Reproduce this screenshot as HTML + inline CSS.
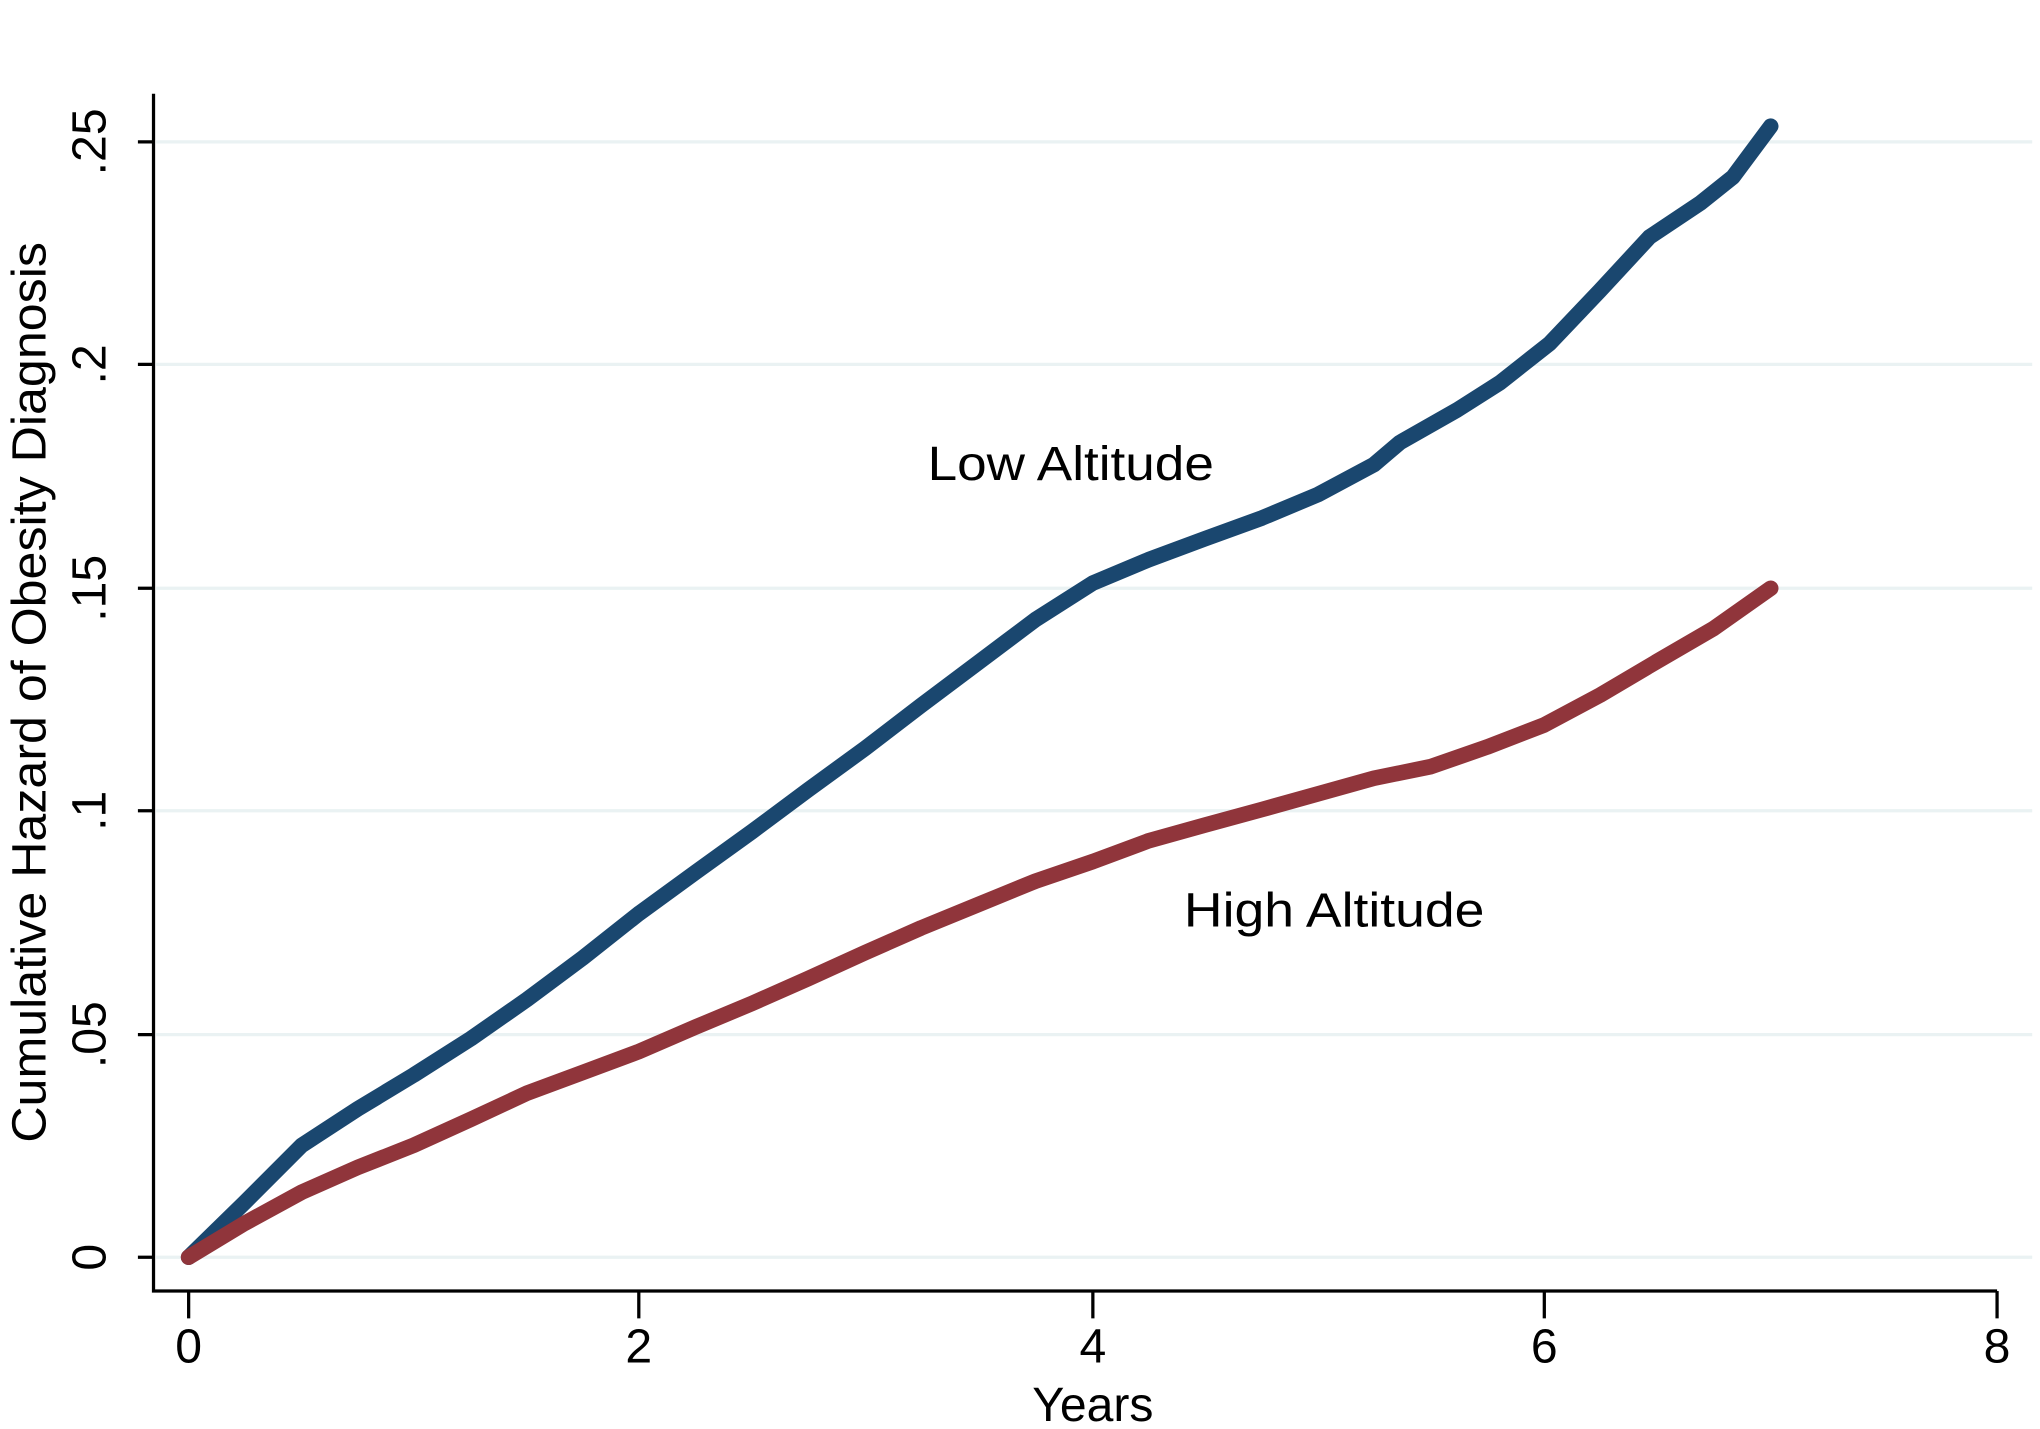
<!DOCTYPE html>
<html><head><meta charset="utf-8"><style>
html,body{margin:0;padding:0;background:#fff;}
svg{display:block;}
text{font-family:"Liberation Sans",sans-serif;fill:#000;}
</style></head><body>
<svg width="2040" height="1429" viewBox="0 0 1568 1098" preserveAspectRatio="none" xmlns="http://www.w3.org/2000/svg">
<rect width="1568" height="1098" fill="#fff"/>
<g stroke="#eaf2f3" stroke-width="2.5">
<line x1="120" y1="966" x2="1562" y2="966"/>
<line x1="120" y1="795" x2="1562" y2="795"/>
<line x1="120" y1="623" x2="1562" y2="623"/>
<line x1="120" y1="452" x2="1562" y2="452"/>
<line x1="120" y1="280" x2="1562" y2="280"/>
<line x1="120" y1="109" x2="1562" y2="109"/>
</g>
<g stroke="#000" stroke-width="2.5" fill="none">
<polyline points="118,72 118,992 1535,992"/>
<line x1="106" y1="966" x2="118" y2="966"/>
<line x1="106" y1="795" x2="118" y2="795"/>
<line x1="106" y1="623" x2="118" y2="623"/>
<line x1="106" y1="452" x2="118" y2="452"/>
<line x1="106" y1="280" x2="118" y2="280"/>
<line x1="106" y1="109" x2="118" y2="109"/>
<line x1="145" y1="992" x2="145" y2="1013"/>
<line x1="491" y1="992" x2="491" y2="1013"/>
<line x1="840" y1="992" x2="840" y2="1013"/>
<line x1="1187" y1="992" x2="1187" y2="1013"/>
<line x1="1535" y1="992" x2="1535" y2="1013"/>
</g>
<g font-size="37" text-anchor="middle">
<text x="145" y="1047">0</text>
<text x="491" y="1047">2</text>
<text x="840" y="1047">4</text>
<text x="1187" y="1047">6</text>
<text x="1535" y="1047">8</text>
<text x="840" y="1092">Years</text>
</g>
<g font-size="37" text-anchor="middle">
<text transform="translate(81,966) rotate(-90)">0</text>
<text transform="translate(81,795) rotate(-90)">.05</text>
<text transform="translate(81,623) rotate(-90)">.1</text>
<text transform="translate(81,452) rotate(-90)">.15</text>
<text transform="translate(81,280) rotate(-90)">.2</text>
<text transform="translate(81,109) rotate(-90)">.25</text>
<text transform="translate(35,532) rotate(-90)" textLength="692" lengthAdjust="spacingAndGlyphs">Cumulative Hazard of Obesity Diagnosis</text>
</g>
<text x="713" y="369" font-size="37" textLength="220" lengthAdjust="spacingAndGlyphs">Low Altitude</text>
<text x="910" y="712" font-size="37" textLength="231" lengthAdjust="spacingAndGlyphs">High Altitude</text>
<g fill="none" stroke-width="12" stroke-linecap="round" stroke-linejoin="round">
<polyline stroke="#1a476f" points="145,966 188,924 232,880 275,852 318,826 362,798 405,768 448,736 491,702 535,670 578,639 621,607 665,575 708,542 752,509 796,476 840,448 883,430 926,414 970,398 1013,380 1056,357 1076,340 1120,315 1153,294 1191,264 1230,223 1268,182 1307,156 1332,136 1361,97"/>
<polyline stroke="#90353b" points="145,966 188,940 232,916 275,897 318,880 362,860 405,840 448,824 491,808 535,789 578,771 621,752 665,732 708,713 752,695 796,677 840,662 883,646 926,634 970,622 1013,610 1056,598 1100,589 1143,574 1187,557 1230,534 1274,508 1317,483 1361,452"/>
</g>
</svg>
</body></html>
